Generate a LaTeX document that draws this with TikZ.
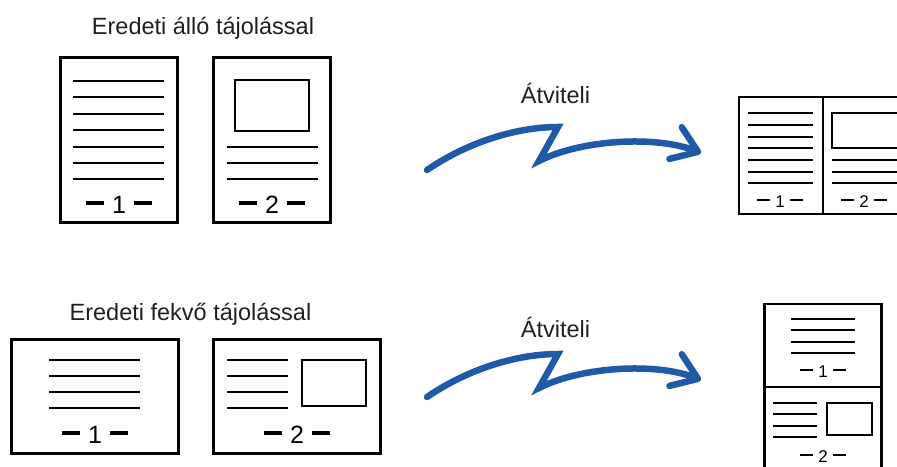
\documentclass[tikz,border=0pt]{standalone}
\usepackage{fontspec}
\setmainfont{Liberation Sans}
\usetikzlibrary{arrows.meta,positioning}
\definecolor{flowblue}{RGB}{32,89,168}
\definecolor{inkgray}{RGB}{35,31,32}
\newcommand{\pgbar}{\rule[0.34em]{0.74em}{0.13em}}
\newcommand{\pgnum}[1]{\pgbar\hspace{0.32em}#1\hspace{0.32em}\pgbar}

\begin{document}
\begin{tikzpicture}[
  x=1pt,y=-1pt,
  origpage/.style={draw,line width=3.2pt,inner sep=0pt},
  sheet/.style={draw,line width=2.8pt,inner sep=0pt},
  txt/.style={line width=2.9pt},
  thintxt/.style={line width=2.5pt},
  imgbox/.style={draw,line width=2.7pt},
  divider/.style={line width=1.3pt},
  heading/.style={font=\fontsize{23.5}{28}\selectfont,text=inkgray,
    anchor=base,inner sep=0pt},
  bignum/.style={font=\fontsize{25}{30}\selectfont,anchor=base,inner sep=0pt},
  smallnum/.style={font=\fontsize{17}{20}\selectfont,anchor=base,inner sep=0pt},
  flow/.style={draw=flowblue,line width=6.5pt,line cap=round,
    -{Straight Barb[length=24pt,width=34pt,round]}}
]
\useasboundingbox (0,0) rectangle (897,466);
\clip (0,0) rectangle (897,466);

% portrait originals
\node[heading] (porttitle) at (203,34) {Eredeti álló tájolással};
\node[origpage,minimum width=117pt,minimum height=165pt] (port1) at (119,140) {};
\node[origpage,minimum width=117pt,minimum height=165pt] (port2) at (272,140) {};
\foreach \y in {81,97,114,130,147,163,179} \draw[txt] (73,\y) -- (164,\y);
\draw[imgbox] (235,80) rectangle (309,131);
\foreach \y in {147,163,179} \draw[txt] (227,\y) -- (318,\y);
\node[bignum] (portnum1) at (119,213) {\pgnum{1}};
\node[bignum] (portnum2) at (272,213) {\pgnum{2}};

% side by side result
\node[sheet,minimum width=168pt,minimum height=117pt] (spread) at (823,155.5) {};
\draw[divider] (spread.north) -- (spread.south);
\foreach \y in {113,125,137,148,160,172,183} \draw[thintxt] (748,\y) -- (813,\y);
\draw[imgbox,line width=2.4pt] (832,113) rectangle (900,148);
\foreach \y in {160,172,183} \draw[thintxt] (832,\y) -- (898,\y);
\node[smallnum] (spreadnum1) at (780,207) {\pgnum{1}};
\node[smallnum] (spreadnum2) at (864,207) {\pgnum{2}};

% landscape originals
\node[heading] (landtitle) at (190.5,320) {Eredeti fekvő tájolással};
\node[origpage,minimum width=167pt,minimum height=114pt] (land1) at (95,396.5) {};
\node[origpage,minimum width=167pt,minimum height=114pt] (land2) at (297,396.5) {};
\foreach \y in {360,376,392,408} \draw[txt] (49,\y) -- (140,\y);
\foreach \y in {360,376,392,408} \draw[txt] (227,\y) -- (288,\y);
\draw[imgbox] (302,360) rectangle (366,406);
\node[bignum] (landnum1) at (95,443) {\pgnum{1}};
\node[bignum] (landnum2) at (297,443) {\pgnum{2}};

% stacked result
\node[sheet,minimum width=117pt,minimum height=168pt] (stack) at (823,388) {};
\draw[divider] (764.5,387) -- (881.5,387);
\foreach \y in {319,330,342,353} \draw[thintxt] (791,\y) -- (855,\y);
\foreach \y in {403,414,426,437} \draw[thintxt] (773,\y) -- (817,\y);
\draw[imgbox,line width=2.4pt] (827,403) rectangle (872,435);
\node[smallnum] (stacknum1) at (823,377) {\pgnum{1}};
\node[smallnum] (stacknum2) at (823,462) {\pgnum{2}};

% transfer arrows
\node[heading] (xferA) at (555.5,103) {Átviteli};
\node[heading] (xferB) at (555.5,337) {Átviteli};
\coordinate (srcA) at (427,170);
\coordinate (kinkA) at (558,127);
\coordinate (dropA) at (539,161);
\coordinate (dstA) at (701,153);
\coordinate (srcB) at (427,397);
\coordinate (kinkB) at (558,354);
\coordinate (dropB) at (539,388);
\coordinate (dstB) at (701,380);
\draw[flow] (srcA) .. controls +(44,-30) and +(-38,0) .. (kinkA) -- (dropA)
  .. controls +(41,-21) and +(-46,-18) .. (dstA);
\draw[flow] (srcB) .. controls +(44,-30) and +(-38,0) .. (kinkB) -- (dropB)
  .. controls +(41,-21) and +(-46,-18) .. (dstB);
\end{tikzpicture}
\end{document}
